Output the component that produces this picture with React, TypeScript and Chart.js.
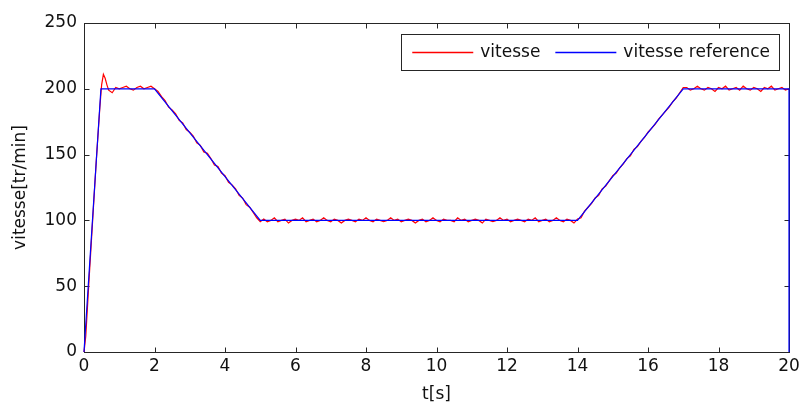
import React, { useEffect, useRef } from "react";
import { Chart, registerables } from "chart.js";

Chart.register(...registerables);

// Reference speed (blue)
const refTime = [0, 0.48, 2, 5, 14, 17, 20, 20];
const refSpeed = [0, 200, 200, 100, 100, 200, 200, 0];

// Measured speed (red) – start-up section, fine resolution
const redStartTime = [0, 0.05, 0.1, 0.15, 0.2, 0.25, 0.3, 0.35, 0.4, 0.45, 0.5, 0.55, 0.6, 0.65, 0.7, 0.8, 0.9];
const redStartSpeed = [0, 12, 35, 58, 80, 102, 124, 146, 166, 186, 203, 211, 208, 203, 199, 197, 201];

// Measured speed (red) from t = 1.0 s to 20.0 s, every 0.1 s
const redFrom = 1.0;
const redStep = 0.1;
const redSpeed = [
  200, 201, 202, 200, 199, 201, 202, 200, 201, 202, 200,
  198, 194, 191, 186, 184, 181, 176, 174, 169, 167,
  164, 159, 157, 152, 151, 147, 142, 141, 136, 134,
  129, 127, 124, 119, 117, 112, 110, 106, 102, 99,
  101, 99, 100, 102, 99, 100, 101, 98, 100, 101,
  100, 102, 99, 100, 101, 99, 100, 102, 100, 99,
  101, 100, 98, 100, 101, 100, 99, 101, 100, 102,
  100, 99, 101, 100, 99, 100, 102, 100, 101, 99,
  100, 101, 100, 98, 100, 101, 99, 100, 102, 100,
  99, 101, 100, 100, 99, 102, 100, 101, 99, 100,
  101, 100, 98, 101, 100, 99, 100, 102, 100, 101,
  99, 100, 101, 100, 99, 101, 100, 102, 99, 100,
  101, 99, 100, 102, 100, 99, 101, 100, 98, 101,
  102, 107, 110, 113, 117, 119, 124, 126, 130, 134,
  136, 140, 143, 147, 149, 154, 156, 160, 163, 167,
  170, 173, 177, 180, 183, 186, 190, 193, 197, 201,
  201, 199, 200, 202, 200, 199, 201, 200, 198, 201,
  200, 202, 199, 200, 201, 199, 202, 200, 199, 201,
  200, 198, 201, 200, 202, 199, 200, 201, 199, 200,
];

const xTickValues = [0, 2, 4, 6, 8, 10, 12, 14, 16, 18, 20];
const yTickValues = [0, 50, 100, 150, 200, 250];

const labels = ["vitesse", "vitesse reference"];
const xTitle = "t[s]";
const yTitle = "vitesse[tr/min]";

const FONT = "'DejaVu Sans', 'Liberation Sans', Arial, sans-serif";
const FS = 17;
const TXT = "#111111";

const framePlugin = {
  id: "frame",
  beforeDatasetsDraw(chart: any) {
    const { ctx, chartArea: a, scales } = chart;
    ctx.save();
    ctx.strokeStyle = "#262626";
    ctx.lineWidth = 1;
    const L = a.left + 0.5, R = a.right + 0.5, T = a.top + 0.5, B = a.bottom + 0.5;
    ctx.strokeRect(L, T, R - L, B - T);
    const tl = 5;
    ctx.beginPath();
    scales.x.ticks.forEach((t: any) => {
      const px = Math.round(scales.x.getPixelForValue(t.value)) + 0.5;
      ctx.moveTo(px, B); ctx.lineTo(px, B - tl);
      ctx.moveTo(px, T); ctx.lineTo(px, T + tl);
    });
    scales.y.ticks.forEach((t: any) => {
      const py = Math.round(scales.y.getPixelForValue(t.value)) + 0.5;
      ctx.moveTo(L, py); ctx.lineTo(L + tl, py);
      ctx.moveTo(R, py); ctx.lineTo(R - tl, py);
    });
    ctx.stroke();
    ctx.restore();
  },
};

const legendPlugin = {
  id: "boxLegend",
  afterDraw(chart: any) {
    const { ctx, chartArea: a } = chart;
    const ds = chart.data.datasets;
    ctx.save();
    ctx.font = `${FS}px ${FONT}`;
    const padL = 11, lineW = 61, gapT = 7, gapItem = 15, padR = 9;
    const widths = ds.map((d: any) => ctx.measureText(d.label).width);
    let total = padL + padR;
    widths.forEach((w: number, i: number) => {
      total += lineW + gapT + w + (i < widths.length - 1 ? gapItem : 0);
    });
    const h = 36;
    const right = a.right - 10;
    const left = right - total;
    const top = a.top + 11;
    ctx.fillStyle = "#ffffff";
    ctx.fillRect(left, top, total, h);
    ctx.strokeStyle = "#262626";
    ctx.lineWidth = 1;
    ctx.strokeRect(Math.round(left) + 0.5, top + 0.5, Math.round(total), h);
    const cy = top + h / 2 + 0.5;
    let x = left + padL;
    ds.forEach((d: any, i: number) => {
      ctx.strokeStyle = d.borderColor;
      ctx.lineWidth = 1.3;
      ctx.beginPath();
      ctx.moveTo(x, cy);
      ctx.lineTo(x + lineW, cy);
      ctx.stroke();
      x += lineW + gapT;
      ctx.fillStyle = TXT;
      ctx.textBaseline = "middle";
      ctx.textAlign = "left";
      ctx.fillText(d.label, x, cy);
      x += widths[i] + gapItem;
    });
    ctx.restore();
  },
};

export default function App() {
  const canvasRef = useRef<HTMLCanvasElement | null>(null);

  useEffect(() => {
    const canvas = canvasRef.current;
    if (!canvas) return;

    const redPoints: { x: number; y: number }[] = [];
    redStartTime.forEach((t, i) => redPoints.push({ x: t, y: redStartSpeed[i] }));
    redSpeed.forEach((v, i) => redPoints.push({ x: +(redFrom + i * redStep).toFixed(2), y: v }));
    const refPoints = refTime.map((t, i) => ({ x: t, y: refSpeed[i] }));

    const chart = new Chart(canvas, {
      type: "line",
      data: {
        datasets: [
          {
            label: labels[0],
            data: redPoints,
            borderColor: "#ff0000",
            borderWidth: 1.2,
            pointRadius: 0,
            tension: 0,
            order: 2,
            clip: 3,
          },
          {
            label: labels[1],
            data: refPoints,
            borderColor: "#0000ff",
            borderWidth: 1.2,
            pointRadius: 0,
            tension: 0,
            order: 1,
            clip: 3,
          },
        ],
      },
      options: {
        responsive: false,
        animation: false,
        events: [],
        layout: { padding: { top: 23, right: 10, left: 0, bottom: 0 } },
        plugins: {
          legend: { display: false },
          tooltip: { enabled: false },
        },
        scales: {
          x: {
            type: "linear",
            min: 0,
            max: 20,
            afterFit: (s: any) => { s.height = 53; s.paddingLeft = 0; s.paddingRight = 0; },
            afterBuildTicks: (s: any) => { s.ticks = xTickValues.map((v) => ({ value: v })); },
            grid: { display: false, drawTicks: false },
            border: { display: false },
            ticks: {
              padding: 4,
              color: TXT,
              font: { family: FONT, size: FS },
              maxRotation: 0,
            },
            title: {
              display: true,
              text: xTitle,
              color: TXT,
              font: { family: FONT, size: FS },
              padding: { top: 0, bottom: 0 },
            },
          },
          y: {
            type: "linear",
            min: 0,
            max: 250,
            afterFit: (s: any) => { s.width = 84; s.paddingTop = 0; s.paddingBottom = 0; },
            afterBuildTicks: (s: any) => { s.ticks = yTickValues.map((v) => ({ value: v })); },
            grid: { display: false, drawTicks: false },
            border: { display: false },
            ticks: {
              padding: 7,
              color: TXT,
              font: { family: FONT, size: FS },
            },
            title: {
              display: true,
              text: yTitle,
              color: TXT,
              font: { family: FONT, size: FS },
              padding: { top: 10, bottom: 0 },
            },
          },
        },
      },
      plugins: [framePlugin, legendPlugin],
    });

    return () => chart.destroy();
  }, []);

  return (
    <div style={{ position: "fixed", left: 0, top: 0, width: 799, height: 405, background: "#fff" }}>
      <canvas ref={canvasRef} width={799} height={405} style={{ display: "block", width: 799, height: 405 }} />
    </div>
  );
}
